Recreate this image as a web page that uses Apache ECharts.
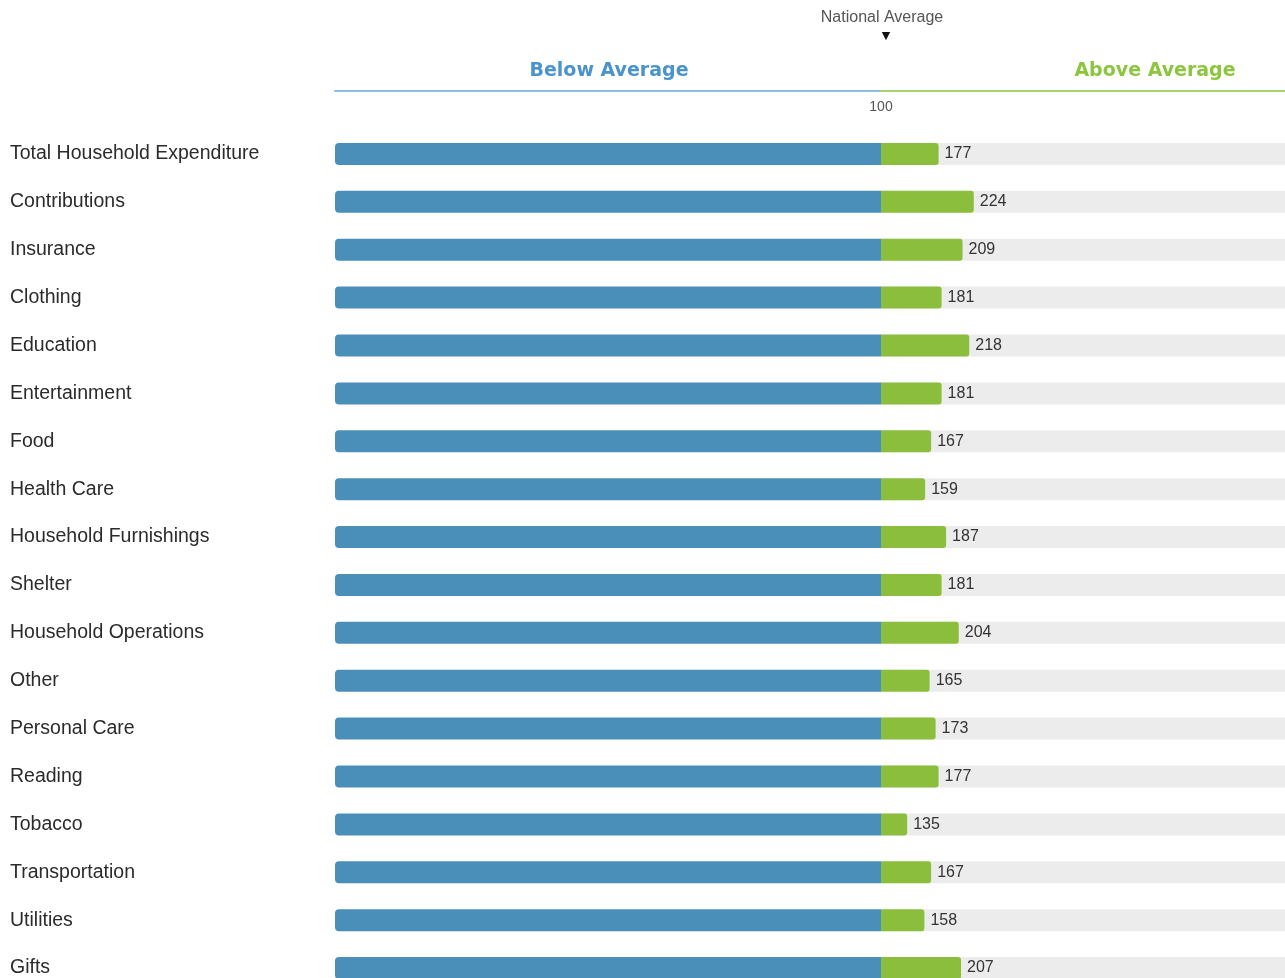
<!DOCTYPE html>
<html>
<head>
<meta charset="utf-8">
<script src="https://cdn.jsdelivr.net/npm/echarts@6/dist/echarts.min.js"></script>
<style>html,body{margin:0;padding:0;background:#fff;}#c{width:1285px;height:978px;}</style>
</head>
<body>
<div id="c"></div>
<script>
const categories = ["Total Household Expenditure","Contributions","Insurance","Clothing","Education","Entertainment","Food","Health Care","Household Furnishings","Shelter","Household Operations","Other","Personal Care","Reading","Tobacco","Transportation","Utilities","Gifts"];
const indexValues = [177,224,209,181,218,181,167,159,187,181,204,165,173,177,135,167,158,207];
const nationalAverage = 100;
const rightMax = 640;

const blueBar = categories.map(() => nationalAverage);
const baseBar = categories.map(() => nationalAverage);
const aboveBar = indexValues.map(v => v - nationalAverage);

const chart = echarts.init(document.getElementById('c'), null, {renderer: 'canvas'});
const TOP = 130, HEIGHT = 862;
chart.setOption({
  animation: false,
  backgroundColor: '#ffffff',
  grid: [
    {left: 335, width: 546, top: TOP, height: HEIGHT, outerBoundsMode: 'none', containLabel: false},
    {left: 881, width: 404, top: TOP, height: HEIGHT, outerBoundsMode: 'none', containLabel: false}
  ],
  xAxis: [
    {gridIndex: 0, type: 'value', min: 0, max: nationalAverage, interval: 100, position: 'top', offset: 39,
     axisLine: {show: true, lineStyle: {color: '#8fbde0', width: 2}},
     axisTick: {show: false}, splitLine: {show: false},
     axisLabel: {inside: true, margin: 9, color: '#555', fontSize: 14, fontFamily: 'Liberation Sans, Arial',
       formatter: v => v === nationalAverage ? String(v) : ''}},
    {gridIndex: 1, type: 'value', min: nationalAverage, max: rightMax, position: 'top', offset: 39,
     axisLine: {show: true, lineStyle: {color: '#a6d36a', width: 2}},
     axisTick: {show: false}, splitLine: {show: false}, axisLabel: {show: false}}
  ],
  yAxis: [
    {gridIndex: 0, type: 'category', data: categories, inverse: true,
     axisLine: {show: false}, axisTick: {show: false}, splitLine: {show: false},
     axisLabel: {align: 'left', margin: 325, color: '#2b2b2b', fontSize: 19.5, fontFamily: 'Liberation Sans, Arial'}},
    {gridIndex: 1, type: 'category', data: categories, inverse: true,
     axisLine: {show: false}, axisTick: {show: false}, axisLabel: {show: false}}
  ],
  series: [
    {type: 'bar', xAxisIndex: 0, yAxisIndex: 0, data: blueBar, barWidth: 22,
     itemStyle: {color: '#4a8fb9', borderRadius: [4, 0, 0, 4]}},
    {type: 'bar', xAxisIndex: 1, yAxisIndex: 1, data: baseBar, barWidth: 22, stack: 'a',
     itemStyle: {color: 'rgba(0,0,0,0)'},
     showBackground: true, backgroundStyle: {color: '#ececec'}},
    {type: 'bar', xAxisIndex: 1, yAxisIndex: 1, data: aboveBar, barWidth: 22, stack: 'a',
     itemStyle: {color: '#8cbe3e', borderRadius: [0, 3, 3, 0]},
     label: {show: true, position: 'right', distance: 6, color: '#333', fontSize: 16,
       fontFamily: 'Liberation Sans, Arial',
       formatter: p => String(indexValues[p.dataIndex])}}
  ],
  graphic: [
    {type: 'text', style: {text: 'National Average', x: 882, y: 18, align: 'center', verticalAlign: 'middle',
       fill: '#555', font: '16px "Liberation Sans", Arial'}},
    {type: 'text', style: {text: '▼', x: 886, y: 36, align: 'center', verticalAlign: 'middle',
       fill: '#111', font: '11px "DejaVu Sans"'}},
    {type: 'text', style: {text: 'Below Average', x: 609, y: 71, align: 'center', verticalAlign: 'middle',
       fill: '#4a93cc', font: 'bold 19px "DejaVu Sans"'}},
    {type: 'text', style: {text: 'Above Average', x: 1155, y: 71, align: 'center', verticalAlign: 'middle',
       fill: '#8cc63f', font: 'bold 19px "DejaVu Sans"'}}
  ]
});
</script>
</body>
</html>
